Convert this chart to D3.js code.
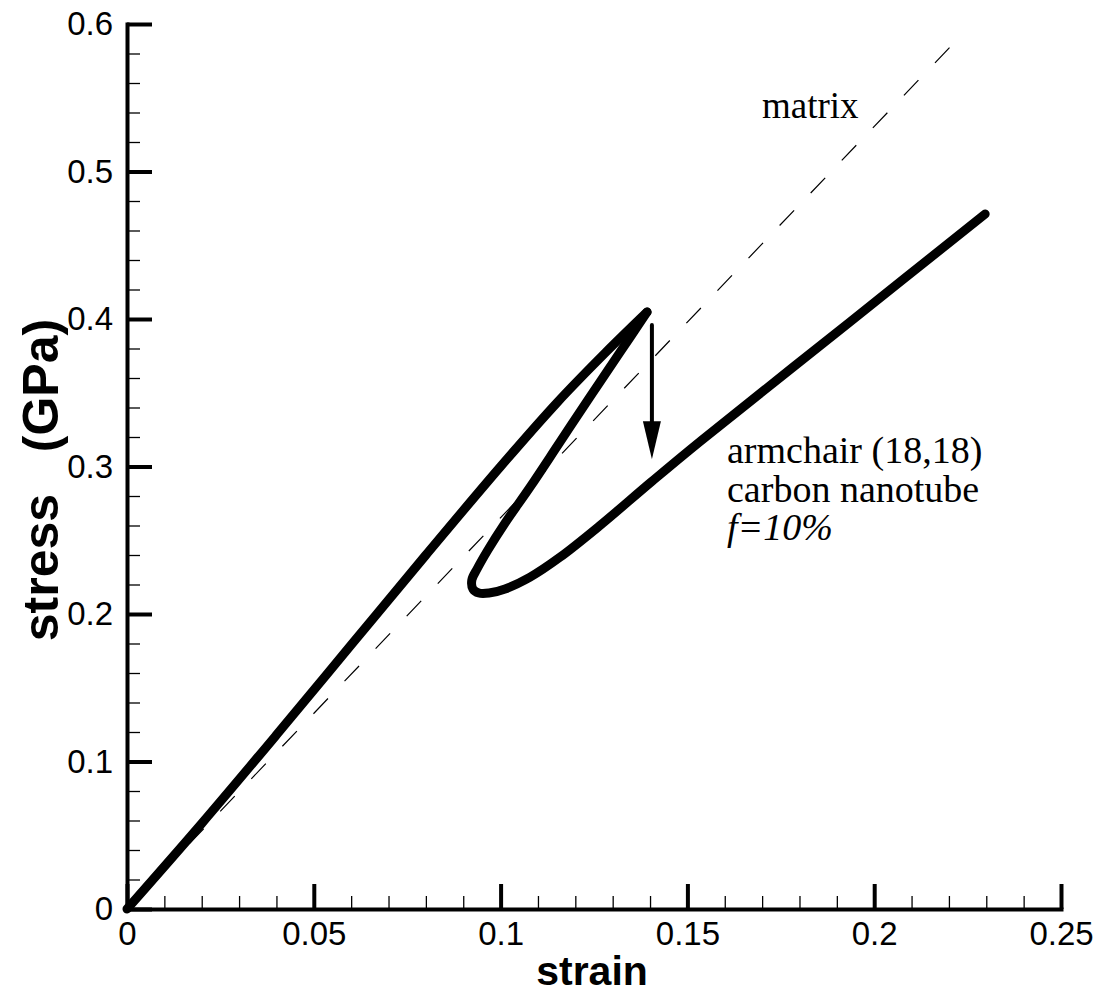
<!DOCTYPE html>
<html><head><meta charset="utf-8">
<script src="https://cdn.jsdelivr.net/npm/d3@7"></script>
<style>
html,body{margin:0;padding:0;background:#fff;}
svg{display:block;}
</style></head>
<body>
<svg id="chart" width="1102" height="998"></svg>
<script>
// ---- data ----
const xTicks = [0, 0.05, 0.1, 0.15, 0.2, 0.25];
const xTickLabels = ["0", "0.05", "0.1", "0.15", "0.2", "0.25"];
const yTicks = [0, 0.1, 0.2, 0.3, 0.4, 0.5, 0.6];
const yTickLabels = ["0", "0.1", "0.2", "0.3", "0.4", "0.5", "0.6"];

// matrix (dashed)
const matrixStrain = [0, 0.2228];
const matrixStress = [0, 0.591];

// CNT composite: loading branch
const loadStrain = [0, 0.02, 0.04, 0.06, 0.08, 0.10, 0.115, 0.128, 0.1392];
const loadStress = [0, 0.058, 0.118, 0.179, 0.240, 0.300, 0.343, 0.377, 0.4047];
// snap-back and reloading branch
const backStrain = [0.1392, 0.1320, 0.1239, 0.1159, 0.1079, 0.1012, 0.0966, 0.0937, 0.0923, 0.0926, 0.0942, 0.0969, 0.1012, 0.1079, 0.1159, 0.1266, 0.1403, 0.1534, 0.1935, 0.2297];
const backStress = [0.4047, 0.3776, 0.3471, 0.3166, 0.2861, 0.2617, 0.2434, 0.2305, 0.2231, 0.2169, 0.2142, 0.2142, 0.2170, 0.2250, 0.2385, 0.2600, 0.2895, 0.3170, 0.3980, 0.4712];

// arrow annotation (data coordinates)
const arrowStrain = [0.1405, 0.1405];
const arrowStress = [0.396, 0.305];

// ---- layout ----
const svg = d3.select("#chart");
const x = d3.scaleLinear().domain([0, 0.25]).range([127, 1061]);
const y = d3.scaleLinear().domain([0, 0.6]).range([909, 24]);

const tickFont = "'Liberation Sans', Arial, sans-serif";
const serif = "'Liberation Serif', 'Times New Roman', serif";

// minor ticks
const xMinor = d3.range(0, 0.2501, 0.01).filter(v => Math.abs(v / 0.05 - Math.round(v / 0.05)) > 1e-6);
const yMinor = d3.range(0, 0.6001, 0.02).filter(v => Math.abs(v / 0.1 - Math.round(v / 0.1)) > 1e-6);

const gxm = svg.append("g").attr("transform", "translate(0,909)")
  .call(d3.axisBottom(x).tickValues(xMinor).tickSize(-13).tickSizeOuter(0).tickFormat(""));
gxm.select(".domain").remove();
gxm.selectAll("line").attr("stroke", "#000").attr("stroke-width", 1.3);

const gym = svg.append("g").attr("transform", "translate(127,0)")
  .call(d3.axisLeft(y).tickValues(yMinor).tickSize(-13).tickSizeOuter(0).tickFormat(""));
gym.select(".domain").remove();
gym.selectAll("line").attr("stroke", "#000").attr("stroke-width", 1.3);

// major axes
const gx = svg.append("g").attr("transform", "translate(0,909)")
  .call(d3.axisBottom(x).tickValues(xTicks).tickSize(-25).tickSizeOuter(0).tickPadding(13)
    .tickFormat((d, i) => xTickLabels[i]));
gx.select(".domain").attr("stroke", "#000").attr("stroke-width", 4).attr("stroke-linecap", "square");
gx.selectAll(".tick line").attr("stroke", "#000").attr("stroke-width", 4);
gx.selectAll("text").attr("font-family", tickFont).attr("font-size", 33).attr("fill", "#000");

const gy = svg.append("g").attr("transform", "translate(127,0)")
  .call(d3.axisLeft(y).tickValues(yTicks).tickSize(-25).tickSizeOuter(0).tickPadding(14)
    .tickFormat((d, i) => yTickLabels[i]));
gy.select(".domain").attr("stroke", "#000").attr("stroke-width", 4).attr("stroke-linecap", "square");
gy.selectAll(".tick line").attr("stroke", "#000").attr("stroke-width", 4);
gy.selectAll("text").attr("font-family", tickFont).attr("font-size", 33).attr("fill", "#000");

// axis titles
svg.append("text").attr("x", 592).attr("y", 985).attr("text-anchor", "middle")
  .attr("font-family", tickFont).attr("font-weight", "bold").attr("font-size", 41).text("strain");
svg.append("text").attr("transform", "translate(58,480) rotate(-90)").attr("text-anchor", "middle")
  .attr("font-family", tickFont).attr("font-weight", "bold").attr("font-size", 50)
  .style("white-space", "pre").text("stress   (GPa)");

// matrix dashed line
const line = d3.line().x(d => x(d[0])).y(d => y(d[1]));
svg.append("path").datum(d3.zip(matrixStrain, matrixStress)).attr("d", line)
  .attr("fill", "none").attr("stroke", "#000").attr("stroke-width", 1.2).attr("stroke-dasharray", "21,24");

// CNT curves
const smooth = d3.line().x(d => x(d[0])).y(d => y(d[1])).curve(d3.curveCatmullRom.alpha(0.5));
svg.append("path").datum(d3.zip(loadStrain, loadStress)).attr("d", smooth)
  .attr("fill", "none").attr("stroke", "#000").attr("stroke-width", 9).attr("stroke-linecap", "round").attr("stroke-linejoin", "round");
svg.append("path").datum(d3.zip(backStrain, backStress)).attr("d", smooth)
  .attr("fill", "none").attr("stroke", "#000").attr("stroke-width", 9).attr("stroke-linecap", "round").attr("stroke-linejoin", "round");

// arrow
const ax = x(arrowStrain[0]), ay0 = y(arrowStress[0]), ay1 = y(arrowStress[1]);
svg.append("line").attr("x1", ax).attr("x2", ax).attr("y1", ay0).attr("y2", ay1 - 30)
  .attr("stroke", "#000").attr("stroke-width", 4).attr("stroke-linecap", "round");
svg.append("path").attr("d", `M${ax - 9},${ay1 - 38} L${ax + 9},${ay1 - 38} L${ax},${ay1} Z`).attr("fill", "#000");

// annotations
svg.append("text").attr("x", 762).attr("y", 118).attr("font-family", serif).attr("font-size", 37).text("matrix");
const ann = svg.append("text").attr("font-family", serif).attr("font-size", 38);
ann.append("tspan").attr("x", 727).attr("y", 463).text("armchair (18,18)");
ann.append("tspan").attr("x", 727).attr("y", 502).text("carbon nanotube");
ann.append("tspan").attr("x", 727).attr("y", 540).attr("font-style", "italic").text("f=10%");
</script>
</body></html>
